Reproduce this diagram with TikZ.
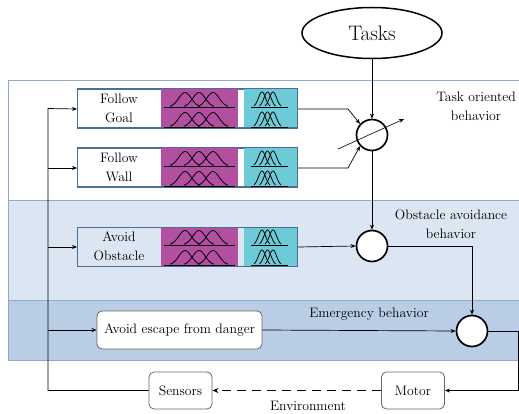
\documentclass[tikz,border=0pt]{standalone}
\usepackage{fontspec}
\usetikzlibrary{arrows.meta,shapes.geometric}
\definecolor{bandline}{HTML}{8EA9CB}
\definecolor{bandmid}{HTML}{DCE6F2}
\definecolor{bandlow}{HTML}{B9CDE5}
\definecolor{boxline}{HTML}{4A6E96}
\definecolor{fuzzmag}{HTML}{B24FA1}
\definecolor{fuzzcyan}{HTML}{6DCBD8}
\definecolor{roundline}{HTML}{666666}
\definecolor{txt}{HTML}{000000}
\tikzset{
  arr/.style={-{Stealth[length=5pt,width=4pt]}, line width=0.7pt},
  fuzzbox/.style={draw=boxline, line width=1pt, minimum width=220pt, minimum height=39pt, anchor=north west, inner sep=0pt},
  lbl/.style={font=\fontsize{13.7}{19}\selectfont, text=txt, align=center, inner sep=0pt},
  sumc/.style={circle, draw, line width=1.7pt, fill=white, minimum size=31pt, inner sep=0pt},
  rbox/.style={draw=roundline, line width=0.8pt, rounded corners=5pt, fill=white, inner sep=0pt, text=txt, font=\fontsize{13.7}{19}\selectfont},
  curve/.style={line width=0.8pt, black}
}
\newcommand{\bellrow}[6]{% first center, spacing, halfwidth, baseline, height, sigma factor
  \foreach \k in {0,1,2}{
    \draw[curve] plot[domain=-#3:#3, samples=31, smooth] ({#1+\k*#2+\x},{#4-#5*exp(-(\x/(#3/#6))^2)});
  }
}
\newcommand{\fuzzy}[3]{% name, top y, text
  \node[fuzzbox] (#1) at (77,#2) {};
  \fill[fuzzmag] (161,#2) rectangle (238,#2+39);
  \fill[fuzzcyan] (244,#2) rectangle (297,#2+39);
  \draw[boxline, line width=1pt] (77,#2) rectangle (297,#2+39);
  \draw[curve] (164,#2+18) -- (235,#2+18);
  \draw[curve] (164,#2+38) -- (235,#2+38);
  \bellrow{185}{14}{15}{#2+18}{14.5}{1.7}
  \bellrow{185}{14}{15}{#2+38}{14.5}{1.7}
  \draw[curve] (251,#2+18) -- (288,#2+18);
  \draw[curve] (251,#2+38) -- (288,#2+38);
  \bellrow{262}{5.5}{8}{#2+18}{15}{1.6}
  \bellrow{262}{5.5}{8}{#2+38}{15}{1.6}
  \node[lbl] (#1t) at (119,#2+19.5) {#3};
}
\begin{document}
\begin{tikzpicture}[x=1pt,y=-1pt]
\useasboundingbox (0,0) rectangle (519,414);
% bands
\draw[bandline, fill=white, line width=0.8pt] (8,80) rectangle (530,200);
\draw[bandline, fill=bandmid, line width=0.8pt] (8,200) rectangle (530,300);
\draw[bandline, fill=bandlow, line width=0.8pt] (8,300) rectangle (530,360);
% band labels
\node[lbl] (ltask) at (476,106) {Task oriented\\behavior};
\node[lbl] (lobs) at (451,224) {Obstacle avoidance\\behavior};
\node[lbl] (lemer) at (369,314) {Emergency behavior};
% fuzzy boxes
\fuzzy{fg}{89}{Follow\\Goal}
\fuzzy{fw}{148}{Follow\\Wall}
\fuzzy{ao}{227}{Avoid\\Obstacle}
% other nodes
\node[ellipse, draw, line width=1.5pt, fill=white, minimum width=140pt, minimum height=51pt, inner sep=0pt, text=txt, font=\fontsize{21}{24}\selectfont] (tasks) at (372,33) {Tasks};
\node[sumc] (c1) at (372,135) {};
\node[sumc] (c2) at (372,246) {};
\node[sumc] (c3) at (472,331) {};
\node[rbox, minimum width=165pt, minimum height=38pt] (ae) at (179.5,330) {Avoid escape from danger};
\node[rbox, minimum width=63pt, minimum height=37pt] (sens) at (180.5,390.5) {Sensors};
\node[rbox, minimum width=63pt, minimum height=37pt] (motor) at (413,390.5) {Motor};
\node[lbl] (lenv) at (308,406) {Environment};
\coordinate (bus) at (48,108.5);
\coordinate (d1) at (338,149);
\coordinate (d2) at (404,119);
% connectors
\draw[arr] (tasks.south) -- (c1.north);
\draw[arr] (fg.east) -- ++(50,0) -- (c1.137);
\draw[arr] (fw.east) -- ++(50,0) -- (c1.223);
\draw[arr, line width=0.6pt] (d1) -- (d2);
\draw[arr] (c1.south) -- (c2.north);
\draw[arr] (ao.east) -- (c2.west);
\draw[arr] (c2.east) -| (c3.north);
\draw[arr] (ae.east) -- (c3.west);
\draw[arr] (c3.east) -- ++(30,0) |- (motor.east);
\draw[-{Stealth[length=6pt,width=5pt]}, line width=1.8pt, dash pattern=on 9pt off 6pt] (motor.west) -- (sens.east);
\draw[arr] (sens.west) -| (bus) -- (fg.west);
\draw[arr] (bus |- fw.west) -- (fw.west);
\draw[arr] (bus |- ao.west) -- (ao.west);
\draw[arr] (bus |- ae.west) -- (ae.west);
\end{tikzpicture}
\end{document}
